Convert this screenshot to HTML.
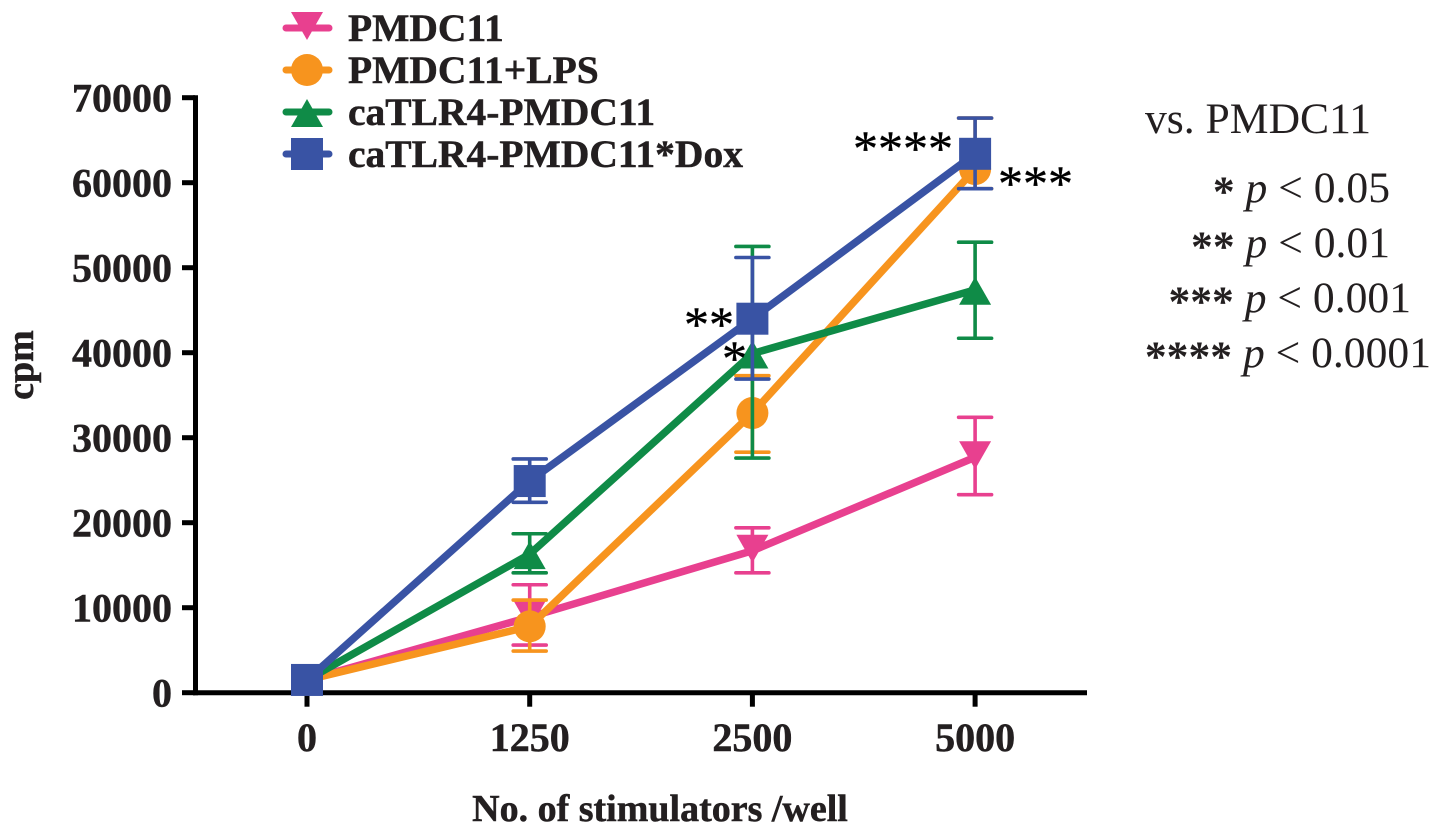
<!DOCTYPE html>
<html lang="en">
<head>
<meta charset="utf-8">
<title>cpm vs. number of stimulators per well</title>
<style>
html,body{margin:0;padding:0;background:#fff;}
#chart{display:block;width:1441px;height:834px;}
text{font-family:"Liberation Serif","DejaVu Serif",serif;fill:#231f20;}
.b{font-weight:700;stroke:#231f20;stroke-width:.5px;}
</style>
</head>
<body>
<svg id="chart" width="1441" height="834" viewBox="0 0 1441 834" xmlns="http://www.w3.org/2000/svg"></svg>
<script>
const categories = ['0', '1250', '2500', '5000'];
const yTickValues = [0, 10000, 20000, 30000, 40000, 50000, 60000, 70000];
const seriesNames = ['PMDC11', 'PMDC11+LPS', 'caTLR4-PMDC11', 'caTLR4-PMDC11*Dox'];
const pmdcValues = [1500, 8900, 16700, 27700];
const pmdcUpper = [1500, 12700, 19400, 32400];
const pmdcLower = [1500, 5600, 14100, 23300];
const lpsValues = [1500, 7800, 32900, 61600];
const lpsUpper = [1500, 10900, 37300, 67600];
const lpsLower = [1500, 4900, 28300, 59300];
const tlrValues = [1500, 16300, 39900, 47400];
const tlrUpper = [1500, 18700, 52500, 53000];
const tlrLower = [1500, 14100, 27600, 41700];
const doxValues = [1500, 24900, 44000, 63400];
const doxUpper = [1500, 27500, 51200, 67600];
const doxLower = [1500, 22400, 36900, 59300];

const NS = 'http://www.w3.org/2000/svg';
const svg = document.getElementById('chart');
const X0 = 307, XSTEP = 222.7, Y0 = 692.7, YPER = 85 / 10000;
function xScale(i) { return X0 + i * XSTEP; }
function yScale(v) { return Y0 - v * YPER; }
function mk(tag, attrs, parent) {
  const el = document.createElementNS(NS, tag);
  for (const k in attrs) el.setAttribute(k, attrs[k]);
  (parent || svg).appendChild(el);
  return el;
}
function label(str, x, y, size, cls, anchor, parent) {
  const t = mk('text', {x: x, y: y, 'font-size': size, 'text-anchor': anchor || 'start'}, parent);
  if (cls) t.setAttribute('class', cls);
  t.textContent = str;
  return t;
}
function marker(kind, cx, cy, color, parent) {
  let el;
  if (kind === 'down') el = mk('polygon', {points: (cx-16)+','+(cy-16)+' '+(cx+16)+','+(cy-16)+' '+cx+','+(cy+12)}, parent);
  if (kind === 'up') el = mk('polygon', {points: (cx-16)+','+(cy+15)+' '+(cx+16)+','+(cy+15)+' '+cx+','+(cy-13)}, parent);
  if (kind === 'circle') el = mk('circle', {cx: cx, cy: cy, r: 16}, parent);
  if (kind === 'square') el = mk('rect', {x: cx-16, y: cy-16, width: 32, height: 32}, parent);
  el.setAttribute('fill', color);
  return el;
}

/* axes */
const axisG = mk('g', {});


const yAxis = mk('line', {x1: 195.5, x2: 195.5, y1: yScale(70000) - 2.5, y2: Y0 + 2.5, stroke: '#000', 'stroke-width': 5}, axisG);


const xAxis = mk('line', {x1: 193, x2: 1087, y1: Y0, y2: Y0, stroke: '#000', 'stroke-width': 5}, axisG);


yTickValues.forEach(function (v) {
  const tick = mk('line', {x1: 182, x2: 195, y1: yScale(v), y2: yScale(v), stroke: '#000', 'stroke-width': 5}, axisG);
  
  
  const tl = label(String(v), 172, yScale(v) + 14, 40, 'b', 'end', axisG);
  
  
});
categories.forEach(function (c, i) {
  const tick = mk('line', {x1: xScale(i), x2: xScale(i), y1: Y0, y2: Y0 + 14, stroke: '#000', 'stroke-width': 5}, axisG);
  
  
  const tl = label(c, xScale(i), 751, 40, 'b', 'middle', axisG);
  
  
});
const xTitle = label('No. of stimulators /well', 660, 821, 38, 'b', 'middle');


const yTitle = label('cpm', 0, 0, 38, 'b', 'middle');
yTitle.setAttribute('transform', 'translate(33 365) rotate(-90)');



/* series */
function drawSeries(name, color, kind, vals, up, lo) {
  const g = mk('g', {});
  
  
  vals.forEach(function (v, i) {
    if (up[i] === lo[i]) return;
    const x = xScale(i);
    const e = mk('path', {
      d: 'M' + x + ' ' + yScale(up[i]) + 'V' + yScale(lo[i]) +
         'M' + (x-16.5) + ' ' + yScale(up[i]) + 'H' + (x+16.5) +
         'M' + (x-16.5) + ' ' + yScale(lo[i]) + 'H' + (x+16.5),
      fill: 'none', stroke: color, 'stroke-width': 3.6, 'stroke-linecap': 'round'
    }, g);
    
    
  });
  const pts = vals.map(function (v, i) { return xScale(i) + ',' + yScale(v); }).join(' ');
  const line = mk('polyline', {points: pts, fill: 'none', stroke: color, 'stroke-width': 7.5, 'stroke-linejoin': 'round'}, g);
  
  
  vals.forEach(function (v, i) {
    const m = marker(kind, xScale(i), yScale(v), color, g);
    
    
  });
}
const PINK = '#e8408f', ORANGE = '#f7941e', GREEN = '#0f8b47', BLUE = '#3953a4';
drawSeries('pmdc11', PINK, 'down', pmdcValues, pmdcUpper, pmdcLower);
drawSeries('pmdc11-lps', ORANGE, 'circle', lpsValues, lpsUpper, lpsLower);
drawSeries('catlr4', GREEN, 'up', tlrValues, tlrUpper, tlrLower);
drawSeries('catlr4-dox', BLUE, 'square', doxValues, doxUpper, doxLower);

/* legend */
const legendKinds = ['down', 'circle', 'up', 'square'];
const legendColors = [PINK, ORANGE, GREEN, BLUE];
const legendG = mk('g', {});


seriesNames.forEach(function (n, i) {
  const cy = 28 + i * 42;
  const g = mk('g', {}, legendG);
  
  
  mk('line', {x1: 286, x2: 329, y1: cy, y2: cy, stroke: legendColors[i], 'stroke-width': 7, 'stroke-linecap': 'round'}, g);
  marker(legendKinds[i], 307, cy, legendColors[i], g);
  label(n, 348, cy + 13, 39.5, 'b', 'start', g);
});

/* significance markers */
const sigG = mk('g', {});


function stars(str, x, y) {
  const t = label(str, x, y, 50, '', 'start', sigG);
  t.style.fill = '#000';
  t.style.stroke = '#000';
  t.style.strokeWidth = '.4px';
  
  
}
stars('****', 853, 165);
stars('***', 998, 200);
stars('**', 684, 341);
stars('*', 722, 375);

/* p-value key */
const keyG = mk('g', {});


const keyTitle = label('vs. PMDC11', 1145, 133, 43.6, '', 'start', keyG);


function keyRow(st, val, xp, y) {
  const t = label('', xp, y, 43.6, '', 'end', keyG);
  
  
  const a = mk('tspan', {dy: 4, 'font-weight': 700}, t); a.textContent = st + ' ';
  const b = mk('tspan', {dy: -4, 'font-style': 'italic'}, t); b.textContent = 'p';
  const c = mk('tspan', {}, t); c.textContent = ' < ' + val;
}
keyRow('*', '0.05', 1390, 202);
keyRow('**', '0.01', 1390, 257);
keyRow('***', '0.001', 1411, 312);
keyRow('****', '0.0001', 1431, 367);
</script>
</body>
</html>
